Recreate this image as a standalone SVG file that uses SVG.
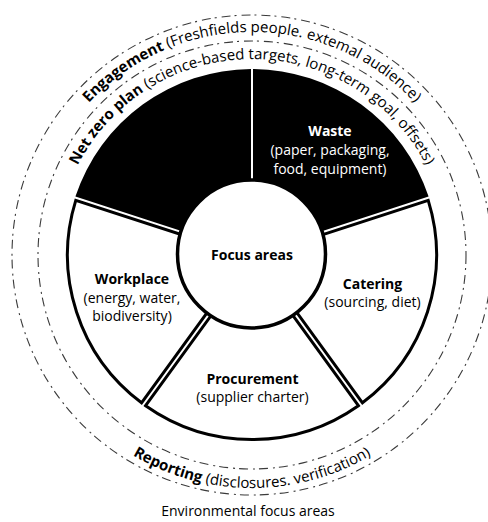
<svg xmlns="http://www.w3.org/2000/svg" width="488" height="522" viewBox="0 0 488 522">
<style>
text{font-family:"Open Sans","Noto Sans","DejaVu Sans",sans-serif;fill:#000}
.lbl{font-size:14px;text-anchor:middle}
.lw{fill:#fff}
.b{font-weight:700}
.arc{font-size:15px;text-anchor:middle}
.sb{fill:#000}
.sw{fill:#fff;stroke:#000;stroke-width:3}
.ring{fill:none;stroke:#3a3a3a;stroke-width:1.1;stroke-dasharray:9 4 2 5}
</style>
<defs>
<path id="sec-black" d="M49.12,-34.45 L151.06,-108.52 A186,186 0 0 1 151.06,108.52 L49.12,34.45 A60,60 0 0 0 49.12,-34.45 Z"/>
<path id="sec-white" d="M49.97,-33.21 L150.72,-106.41 A184.5,184.5 0 0 1 150.72,106.41 L49.97,33.21 A60,60 0 0 0 49.97,-33.21 Z"/>
<path id="p-net" d="M56,255 A196,196 0 0 1 448,255"/>
<path id="p-eng" d="M29,255 A223,223 0 0 1 475,255"/>
<path id="p-rep" d="M19,255 A233,233 0 0 0 485,255"/>
</defs>
<rect width="488" height="522" fill="#fff"/>
<g id="rings">
<circle class="ring" cx="252" cy="255" r="214"/>
<circle class="ring" cx="252" cy="255" r="240"/>
</g>
<g id="net-zero-plan">
<use href="#sec-black" class="sb" transform="translate(252 255) rotate(234)"/>
<text class="arc"><textPath href="#p-net" startOffset="50%"><tspan class="b">Net zero plan</tspan> (science-based targets, long-term goal, offsets)</textPath></text>
</g>
<g id="engagement">
<text class="arc"><textPath href="#p-eng" startOffset="50%"><tspan class="b">Engagement</tspan> (Freshfields people. extemal audience)</textPath></text>
</g>
<g id="reporting">
<text class="arc"><textPath href="#p-rep" startOffset="50%"><tspan class="b">Reporting</tspan> (disclosures. verification)</textPath></text>
</g>
<g id="waste">
<use href="#sec-black" class="sb" transform="translate(252 255) rotate(-54)"/>
<text class="lbl lw b" x="330" y="136">Waste</text>
<text class="lbl lw" x="330" y="155">(paper, packaging,</text>
<text class="lbl lw" x="330" y="173.5">food, equipment)</text>
</g>
<g id="catering">
<use href="#sec-white" class="sw" transform="translate(252 255) rotate(18)"/>
<text class="lbl b" x="372.5" y="289">Catering</text>
<text class="lbl" x="372.5" y="307">(sourcing, diet)</text>
</g>
<g id="procurement">
<use href="#sec-white" class="sw" transform="translate(252 255) rotate(90)"/>
<text class="lbl b" x="252.5" y="383.5">Procurement</text>
<text class="lbl" x="252.5" y="402">(supplier charter)</text>
</g>
<g id="workplace">
<use href="#sec-white" class="sw" transform="translate(252 255) rotate(162)"/>
<text class="lbl b" x="132" y="284">Workplace</text>
<text class="lbl" x="132" y="302.5">(energy, water,</text>
<text class="lbl" x="132" y="321">biodiversity)</text>
</g>
<g id="focus-areas">
<circle cx="251.5" cy="254" r="74" fill="#fff" stroke="#000" stroke-width="3.5"/>
<text class="lbl b" x="252" y="260">Focus areas</text>
</g>
<g id="title">
<text class="lbl" x="248" y="516">Environmental focus areas</text>
</g>
</svg>
